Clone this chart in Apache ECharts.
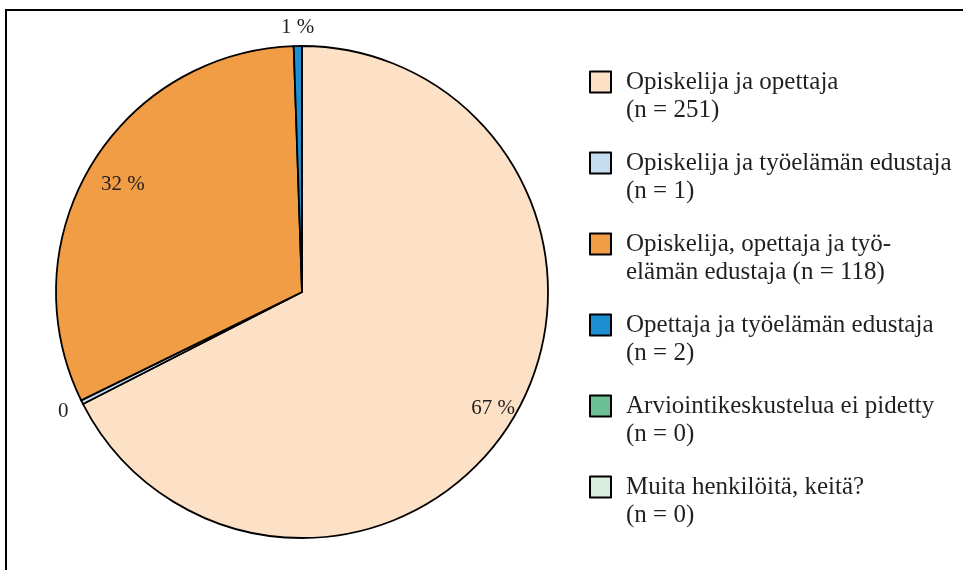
<!DOCTYPE html>
<html>
<head>
<meta charset="utf-8">
<script src="https://cdn.jsdelivr.net/npm/echarts@6/dist/echarts.min.js"></script>
<style>
html,body{margin:0;padding:0;background:#fff;}
#chart{width:963px;height:570px;}
</style>
</head>
<body>
<div id="chart"></div>
<script>
// ---- data ----
const categories = [
  "Opiskelija ja opettaja",
  "Opiskelija ja työelämän edustaja",
  "Opiskelija, opettaja ja työelämän edustaja",
  "Opettaja ja työelämän edustaja",
  "Arviointikeskustelua ei pidetty",
  "Muita henkilöitä, keitä?"
];
const values = [251, 1, 118, 2, 0, 0];
const legendTemplates = [
  "Opiskelija ja opettaja\n(n = {n})",
  "Opiskelija ja työelämän edustaja\n(n = {n})",
  "Opiskelija, opettaja ja työ-\nelämän edustaja (n = {n})",
  "Opettaja ja työelämän edustaja\n(n = {n})",
  "Arviointikeskustelua ei pidetty\n(n = {n})",
  "Muita henkilöitä, keitä?\n(n = {n})"
];

// ---- styles / layout ----
const colors = ['#FCE1C6', '#C6DCF1', '#F09D46', '#1D8FD0', '#6CC095', '#DAEEE0'];
const center = [302, 292];
const R = 246;
const labelRadius = [221, 264, 206, 262, null, null];
const FONT = '"Liberation Serif", "Times New Roman", serif';

const total = values.reduce((a, b) => a + b, 0);
function pctText(v) {
  const p = Math.round(v / total * 100);
  return p === 0 ? '0' : p + ' %';
}

const mainData = categories.map((c, i) => ({
  name: c, value: values[i], itemStyle: { color: colors[i] }
}));

const series = [{
  type: 'pie',
  center: center,
  radius: [0, R],
  startAngle: 90,
  clockwise: true,
  avoidLabelOverlap: false,
  silent: true,
  label: { show: false },
  labelLine: { show: false },
  itemStyle: { borderColor: '#000', borderWidth: 1.8 },
  data: mainData
}];

const uniqueR = [...new Set(labelRadius.filter(r => r !== null))];
uniqueR.forEach(r => {
  series.push({
    type: 'pie',
    center: center,
    radius: [r - 1, r + 1],
    startAngle: 90,
    clockwise: true,
    avoidLabelOverlap: false,
    silent: true,
    legendHoverLink: false,
    itemStyle: { color: 'rgba(0,0,0,0)', borderWidth: 0 },
    labelLine: { show: false },
    emphasis: { disabled: true },
    data: categories.map((c, i) => ({
      name: c,
      value: values[i],
      itemStyle: { color: 'rgba(0,0,0,0)' },
      label: {
        show: labelRadius[i] === r,
        position: 'inside',
        formatter: () => pctText(values[i]),
        fontFamily: FONT,
        fontSize: 21,
        color: '#231F20'
      }
    }))
  });
});

const chart = echarts.init(document.getElementById('chart'), null, { renderer: 'canvas' });
chart.setOption({
  animation: false,
  backgroundColor: '#fff',
  color: colors,
  graphic: [{
    type: 'rect',
    silent: true,
    shape: { x: 6, y: 10, width: 1000, height: 600 },
    style: { fill: 'none', stroke: '#000', lineWidth: 2 }
  }],
  legend: {
    orient: 'vertical',
    left: 589,
    top: 40,
    padding: 0,
    itemWidth: 21,
    itemHeight: 21,
    itemGap: -3,
    selectedMode: false,
    icon: 'rect',
    data: categories,
    itemStyle: { borderColor: '#000', borderWidth: 2 },
    formatter: function (name) {
      const i = categories.indexOf(name);
      return '\n' + legendTemplates[i].replace('{n}', values[i]);
    },
    textStyle: {
      fontFamily: FONT,
      fontSize: 25,
      lineHeight: 28,
      color: '#231F20',
      padding: [0, 0, 0, 10]
    }
  },
  series: series
});
</script>
</body>
</html>
